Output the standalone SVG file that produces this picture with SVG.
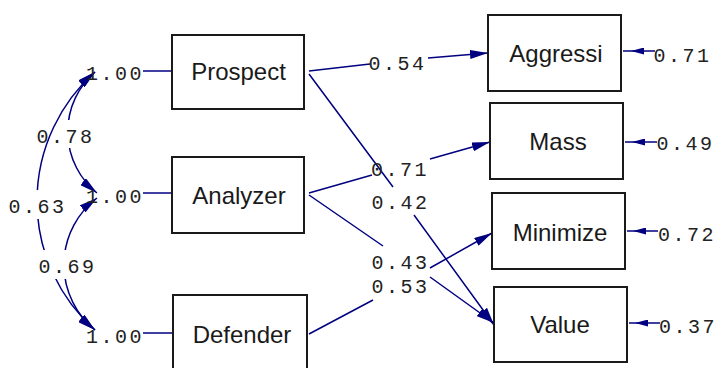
<svg xmlns="http://www.w3.org/2000/svg" width="716" height="368" viewBox="0 0 716 368">
<style>
.box{fill:#fff;stroke:#1a1a1a;stroke-width:2}
.nl{font-family:"Liberation Sans",Arial,sans-serif;font-size:24px;fill:#1a1a1a;text-anchor:middle}
.num{font-family:"Liberation Mono","Courier New",monospace;font-size:20px;letter-spacing:2.5px;fill:#222}
.ln{fill:none;stroke:#000080;stroke-width:1.5}
.arr{marker-end:url(#ah)}
.both{marker-start:url(#ah);marker-end:url(#ah)}
.err{marker-mid:url(#eh)}
</style>
<defs>
<marker id="ah" viewBox="0 0 18 9" refX="18" refY="4.5" markerWidth="18" markerHeight="9" markerUnits="userSpaceOnUse" orient="auto-start-reverse"><path d="M0,0 L18,4.5 L0,9 Z" fill="#000080"/></marker>
<marker id="eh" viewBox="0 0 13 7" refX="13" refY="3.5" markerWidth="13" markerHeight="7" markerUnits="userSpaceOnUse" orient="auto"><path d="M0,0 L13,3.5 L0,7 Z" fill="#000080"/></marker>
<mask id="m78" maskUnits="userSpaceOnUse" x="0" y="0" width="716" height="368"><rect width="716" height="368" fill="#fff"/><rect x="36" y="120" width="60" height="28" fill="#000"/></mask>
<mask id="m63" maskUnits="userSpaceOnUse" x="0" y="0" width="716" height="368"><rect width="716" height="368" fill="#fff"/><rect x="8" y="190" width="58" height="29" fill="#000"/><rect x="38" y="250" width="60" height="29" fill="#000"/></mask>
<mask id="m69" maskUnits="userSpaceOnUse" x="0" y="0" width="716" height="368"><rect width="716" height="368" fill="#fff"/><rect x="38" y="250" width="60" height="29" fill="#000"/></mask>
</defs>
<rect width="716" height="368" fill="#fff"/>
<g id="connectors">
<path class="ln both" mask="url(#m78)" d="M95,72 A79,79 0 0 0 97,193"/>
<path class="ln both" mask="url(#m63)" d="M95,72 A172.5,172.5 0 0 0 95,330"/>
<path class="ln both" mask="url(#m69)" d="M97,198 A84,84 0 0 0 95,330"/>
<path class="ln" d="M143,71 L172,71"/>
<path class="ln" d="M143,193 L172,193"/>
<path class="ln" d="M143,333 L173,333"/>
<path class="ln arr" d="M309,71 L370,64 M428,58 L488,53"/>
<path class="ln arr" d="M309,74 L393,187 M414,215 L494,325"/>
<path class="ln arr" d="M309,193 L372,175 M430,159 L490,142"/>
<path class="ln arr" d="M309,195 L383,246 M430,277 L494,323"/>
<path class="ln arr" d="M309,334 L373,300 M430,268 L492,233"/>
<path class="ln err" d="M655,51 L631,51 L623,51"/>
<path class="ln err" d="M657,142 L632,142 L625,142"/>
<path class="ln err" d="M658,231 L633,231 L627,231"/>
<path class="ln err" d="M660,323 L635,323 L629,323"/>
<text class="num" x="86" y="79.5">1.00</text>
<text class="num" x="86" y="203">1.00</text>
<text class="num" x="86" y="342.5">1.00</text>
<text class="num" x="36.5" y="142.5">0.78</text>
<text class="num" x="8.5" y="212.5">0.63</text>
<text class="num" x="38.5" y="272.5">0.69</text>
<text class="num" x="368.5" y="69.5">0.54</text>
<text class="num" x="371" y="175.5">0.71</text>
<text class="num" x="371.5" y="208.5">0.42</text>
<text class="num" x="371.5" y="268.5">0.43</text>
<text class="num" x="371.5" y="292.5">0.53</text>
<text class="num" x="653.5" y="62">0.71</text>
<text class="num" x="656.5" y="150">0.49</text>
<text class="num" x="658" y="241">0.72</text>
<text class="num" x="659" y="333" letter-spacing="2">0.37</text>
</g>
<g id="prospect"><rect class="box" x="172" y="35" width="132" height="74"/><text class="nl" x="238.5" y="80">Prospect</text></g>
<g id="analyzer"><rect class="box" x="172" y="157" width="132" height="76"/><text class="nl" x="239" y="204">Analyzer</text></g>
<g id="defender"><rect class="box" x="173" y="295" width="134" height="80"/><text class="nl" x="242" y="343">Defender</text></g>
<g id="aggressi"><rect class="box" x="488" y="15" width="133" height="76"/><text class="nl" x="556" y="62">Aggressi</text></g>
<g id="mass"><rect class="box" x="490" y="103" width="133" height="76"/><text class="nl" x="558" y="150">Mass</text></g>
<g id="minimize"><rect class="box" x="492" y="193" width="133" height="76"/><text class="nl" x="560" y="241">Minimize</text></g>
<g id="value"><rect class="box" x="494" y="287" width="133" height="75"/><text class="nl" x="560" y="333">Value</text></g>
</svg>
